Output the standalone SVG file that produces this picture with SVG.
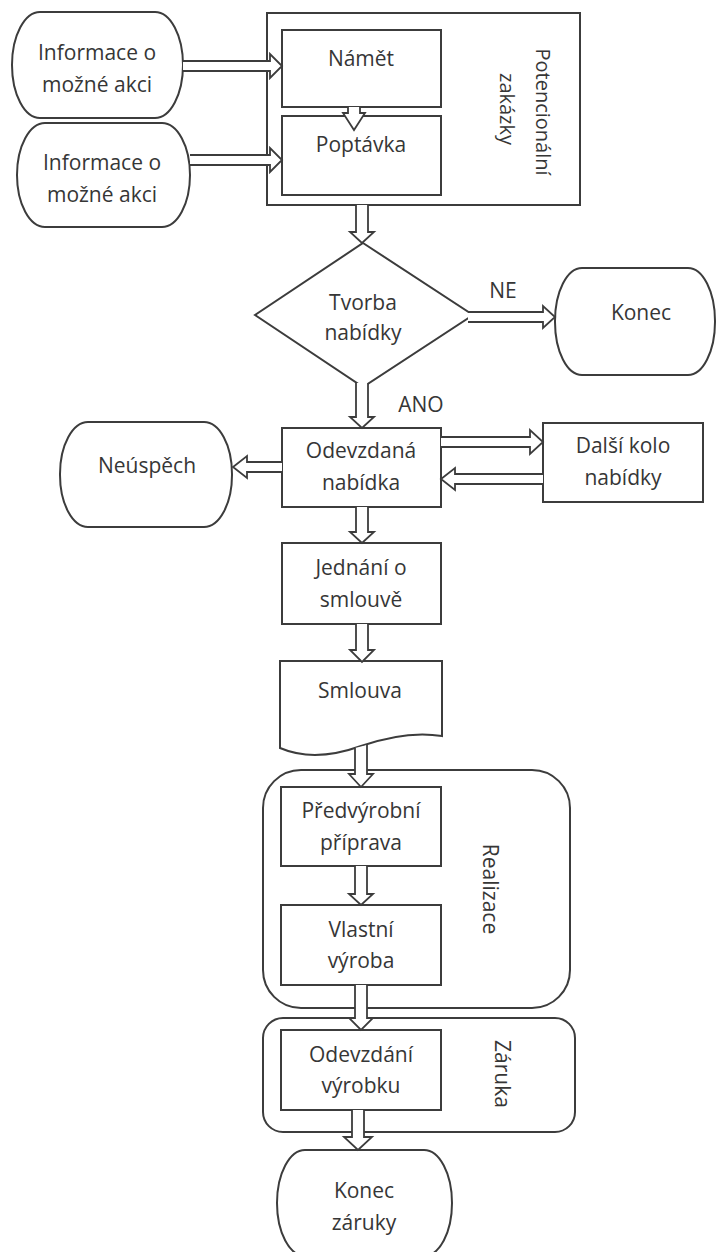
<svg xmlns="http://www.w3.org/2000/svg" width="717" height="1252" viewBox="0 0 717 1252">
  <style>
    .shape { fill: #ffffff; stroke: #3c3c3c; stroke-width: 2; }
    .frame { fill: none; stroke: #3c3c3c; stroke-width: 2; }
    .arrow { fill: #ffffff; stroke: #3c3c3c; stroke-width: 1.8; stroke-linejoin: miter; }
    .lbl { font-family: "Open Sans", "Noto Sans", "DejaVu Sans", sans-serif; font-size: 21px; fill: #363636; text-anchor: middle; }
    .side { font-size: 20px; }
  </style>
  <rect width="717" height="1252" fill="#ffffff"/>

  <!-- containers -->
  <g id="potencionalni-zakazky">
    <rect class="frame" x="267" y="13" width="313" height="192"/>
    <text class="lbl side" transform="translate(543,112) rotate(90)" y="7">Potencionální</text>
    <text class="lbl side" transform="translate(507,109) rotate(90)" y="7">zakázky</text>
  </g>
  <g id="realizace">
    <rect class="frame" x="263" y="770" width="307" height="238" rx="38" ry="38"/>
    <text class="lbl" transform="translate(490,889) rotate(90)" y="7">Realizace</text>
  </g>
  <g id="zaruka">
    <rect class="frame" x="263" y="1018" width="312" height="114" rx="20" ry="20"/>
    <text class="lbl" transform="translate(502,1074) rotate(90)" y="7">Záruka</text>
  </g>

  <!-- terminators -->
  <g id="informace-1">
    <rect class="shape" x="12" y="12" width="171" height="106" rx="28" ry="53"/>
    <text class="lbl" x="97" y="60">Informace o</text>
    <text class="lbl" x="97" y="92">možné akci</text>
  </g>
  <g id="informace-2">
    <rect class="shape" x="17" y="123" width="173" height="104" rx="28" ry="52"/>
    <text class="lbl" x="102" y="170">Informace o</text>
    <text class="lbl" x="102" y="202">možné akci</text>
  </g>
  <g id="konec">
    <rect class="shape" x="555" y="268" width="160" height="107" rx="27" ry="53"/>
    <text class="lbl" x="641" y="320">Konec</text>
  </g>
  <g id="neuspech">
    <rect class="shape" x="60" y="422" width="172" height="105" rx="28" ry="52"/>
    <text class="lbl" x="147" y="473">Neúspěch</text>
  </g>
  <g id="konec-zaruky">
    <rect class="shape" x="277" y="1150" width="175" height="106" rx="28" ry="53"/>
    <text class="lbl" x="364" y="1198">Konec</text>
    <text class="lbl" x="364" y="1230">záruky</text>
  </g>

  <!-- process boxes -->
  <g id="namet">
    <rect class="shape" x="282" y="30" width="159" height="77"/>
    <text class="lbl" x="361" y="66">Námět</text>
  </g>
  <g id="poptavka">
    <rect class="shape" x="282" y="116" width="159" height="79"/>
    <text class="lbl" x="361" y="152">Poptávka</text>
  </g>
  <g id="tvorba-nabidky">
    <polygon class="shape" points="363,243 473,315 363,387 255,315"/>
    <text class="lbl" x="363" y="310">Tvorba</text>
    <text class="lbl" x="363" y="340">nabídky</text>
  </g>
  <g id="odevzdana-nabidka">
    <rect class="shape" x="282" y="428" width="159" height="79"/>
    <text class="lbl" x="361" y="458">Odevzdaná</text>
    <text class="lbl" x="361" y="490">nabídka</text>
  </g>
  <g id="dalsi-kolo">
    <rect class="shape" x="543" y="423" width="160" height="79"/>
    <text class="lbl" x="623" y="453">Další kolo</text>
    <text class="lbl" x="623" y="485">nabídky</text>
  </g>
  <g id="jednani">
    <rect class="shape" x="282" y="543" width="159" height="81"/>
    <text class="lbl" x="361" y="575">Jednání o</text>
    <text class="lbl" x="361" y="607">smlouvě</text>
  </g>
  <g id="smlouva">
    <path class="shape" d="M280,661 H442 V736 C418,732 390,736 361,746 C336,755 308,760 280,748 Z"/>
    <text class="lbl" x="360" y="698">Smlouva</text>
  </g>
  <g id="predvyrobni">
    <rect class="shape" x="281" y="787" width="160" height="79"/>
    <text class="lbl" x="361" y="818">Předvýrobní</text>
    <text class="lbl" x="361" y="850">příprava</text>
  </g>
  <g id="vlastni-vyroba">
    <rect class="shape" x="281" y="905" width="160" height="80"/>
    <text class="lbl" x="361" y="937">Vlastní</text>
    <text class="lbl" x="361" y="968">výroba</text>
  </g>
  <g id="odevzdani-vyrobku">
    <rect class="shape" x="281" y="1030" width="160" height="80"/>
    <text class="lbl" x="361" y="1062">Odevzdání</text>
    <text class="lbl" x="361" y="1093">výrobku</text>
  </g>

  <!-- block arrows -->
  <g id="connectors">
    <path class="arrow" d="M183,61 H270 V54 L282,66 L270,78 V71 H183"/>
    <path class="arrow" d="M190,155 H270 V148 L282,160 L270,172 V165 H190"/>
    <path class="arrow" d="M348,107 V113 H343 L354,130 L365,113 H360 V107"/>
    <path class="arrow" d="M356,205 V232 H350 L362,243 L374,232 H368 V205"/>
    <path class="arrow" d="M468,312 H543 V306 L555,317 L543,328 V322 H468"/>
    <path class="arrow" d="M356,383 V417 H350 L362,428 L374,417 H368 V383"/>
    <path class="arrow" d="M282,462 H247 V456 L233,467 L247,478 V472 H282"/>
    <path class="arrow" d="M441,437 H530 V430 L543,442 L530,454 V447 H441"/>
    <path class="arrow" d="M543,474 H455 V468 L441,479 L455,490 V484 H543"/>
    <path class="arrow" d="M356,507 V532 H350 L362,543 L374,532 H368 V507"/>
    <path class="arrow" d="M356,624 V650 H350 L362,662 L374,650 H368 V624"/>
    <path class="arrow" d="M355,748 V774 H349 L361,787 L373,774 H367 V745"/>
    <path class="arrow" d="M355,866 V894 H349 L361,905 L373,894 H367 V866"/>
    <path class="arrow" d="M355,985 V1018 H349 L361,1030 L373,1018 H367 V985"/>
    <path class="arrow" d="M352,1110 V1137 H344 L358,1150 L372,1137 H364 V1110"/>
  </g>

  <!-- branch labels -->
  <g id="labels">
    <text class="lbl" x="503" y="298">NE</text>
    <text class="lbl" x="421" y="412">ANO</text>
  </g>
</svg>
